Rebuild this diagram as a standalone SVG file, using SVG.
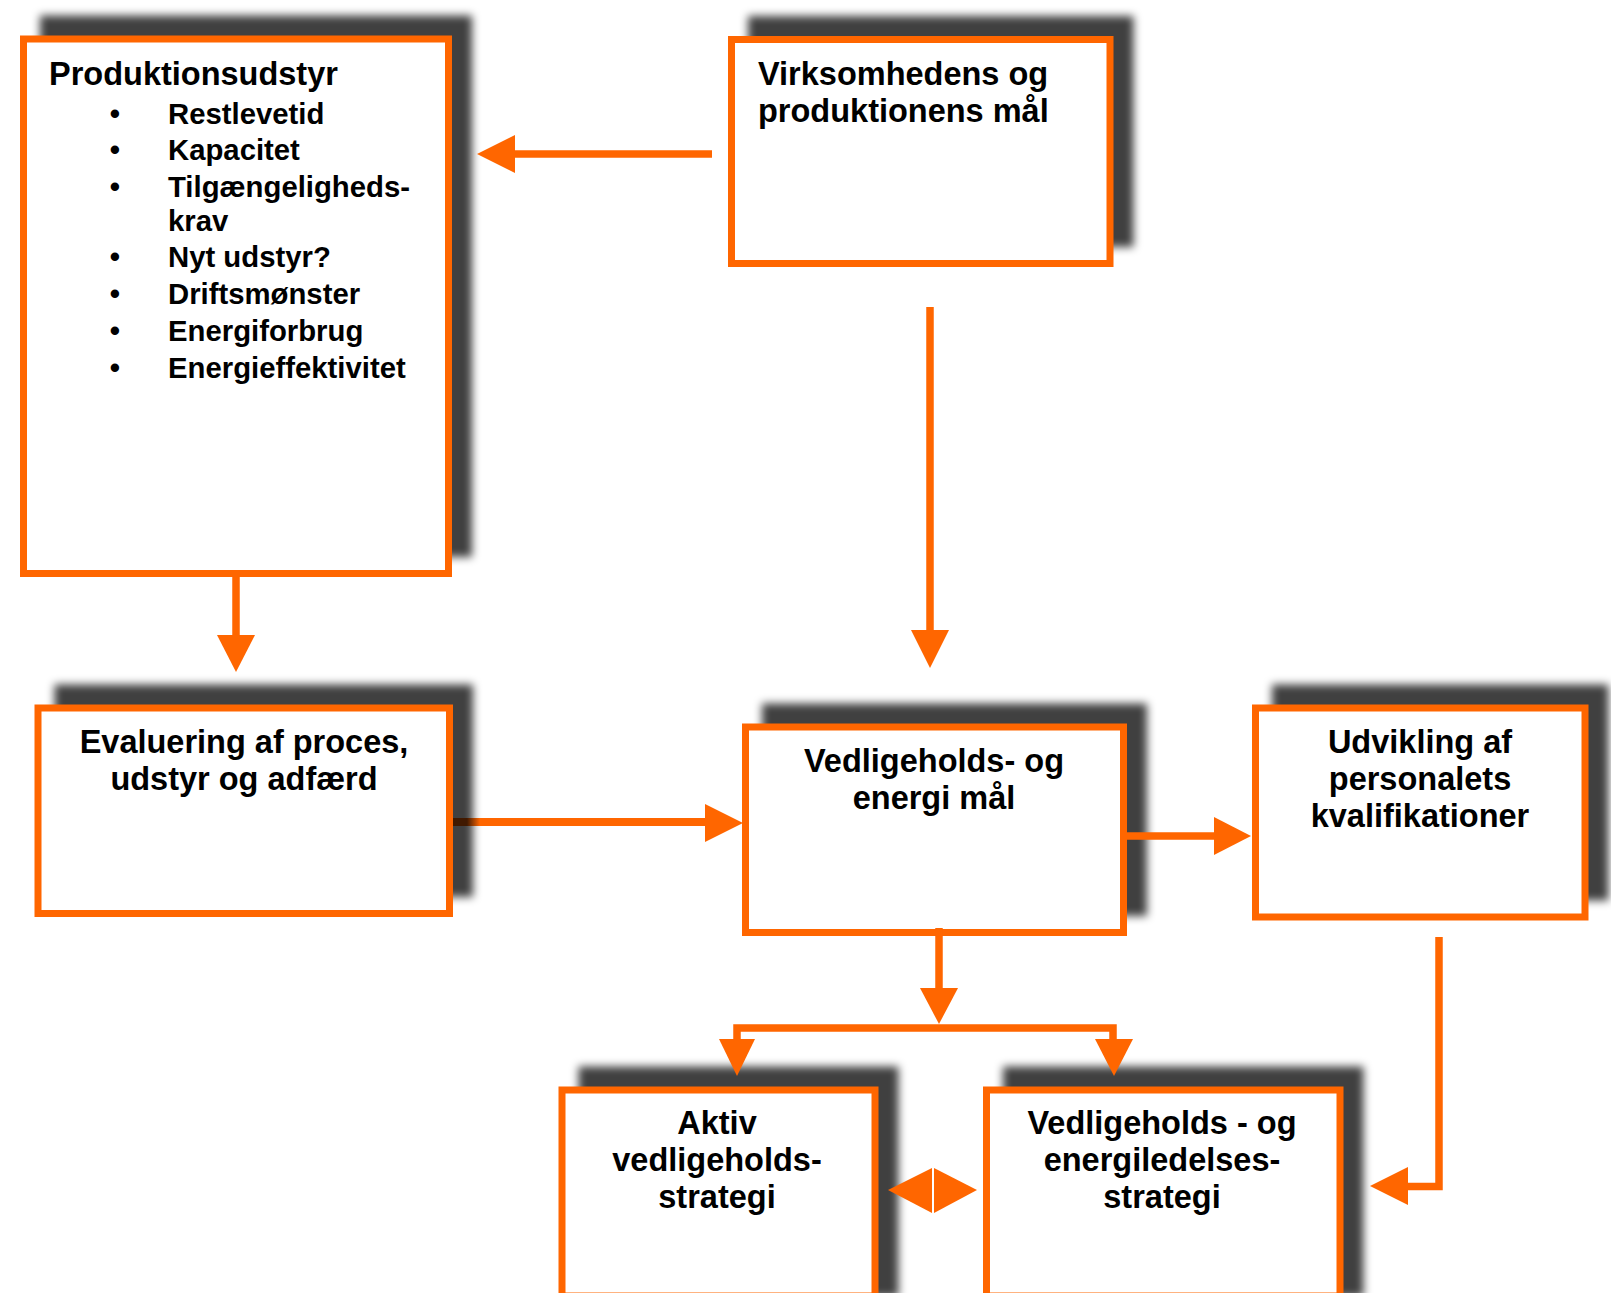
<svg xmlns="http://www.w3.org/2000/svg" width="1611" height="1293" viewBox="0 0 1611 1293">
<defs>
<filter id="sh" x="-20%" y="-20%" width="140%" height="140%"><feGaussianBlur stdDeviation="4.5"/></filter>
<linearGradient id="evg" gradientUnits="userSpaceOnUse" x1="467" y1="0" x2="480" y2="0">
<stop offset="0" stop-color="#401900"/><stop offset="1" stop-color="#FF6600"/>
</linearGradient>
</defs>
<style>
.shadow{fill:#000;fill-opacity:0.75;filter:url(#sh)}
.box{fill:#fff;stroke:#FF6600;stroke-width:7}
.t{font-family:"Liberation Sans",Arial,Helvetica,sans-serif;font-weight:bold;font-size:32.5px;fill:#000}
.s{font-size:29.3px}
.c{text-anchor:middle}
.ln{fill:none;stroke:#FF6600;stroke-width:7.5}
.ah{fill:#FF6600}
</style>
<rect width="1611" height="1293" fill="#fff"/>

<g id="node-produktionsudstyr">
<rect class="shadow" x="40" y="15.5" width="432" height="541.5"/>
<rect class="box" x="23.5" y="39" width="425" height="534.5"/>
<text class="t" x="49" y="85">Produktionsudstyr</text>
<g class="t s">
<text x="115" y="123.5" class="c">•</text><text x="168" y="123.5">Restlevetid</text>
<text x="115" y="159.5" class="c">•</text><text x="168" y="159.5">Kapacitet</text>
<text x="115" y="196.5" class="c">•</text><text x="168" y="196.5">Tilgængeligheds-</text>
<text x="168" y="230.5">krav</text>
<text x="115" y="267" class="c">•</text><text x="168" y="267">Nyt udstyr?</text>
<text x="115" y="303.5" class="c">•</text><text x="168" y="303.5">Driftsmønster</text>
<text x="115" y="341" class="c">•</text><text x="168" y="341">Energiforbrug</text>
<text x="115" y="377.5" class="c">•</text><text x="168" y="377.5">Energieffektivitet</text>
</g>
</g>

<g id="node-virksomhedens-maal">
<rect class="shadow" x="748" y="16" width="385.5" height="231"/>
<rect class="box" x="731.5" y="39.5" width="378.5" height="224"/>
<text class="t" x="758" y="85">Virksomhedens og</text>
<text class="t" x="758" y="122">produktionens mål</text>
</g>

<g id="node-evaluering">
<rect class="shadow" x="54.5" y="684.5" width="418.5" height="212.5"/>
<rect class="box" x="38" y="708" width="411.5" height="205.5"/>
<text class="t c" x="244" y="753">Evaluering af proces,</text>
<text class="t c" x="244" y="790">udstyr og adfærd</text>
</g>

<g id="node-vedligeholds-energi-maal">
<rect class="shadow" x="762" y="703.5" width="385" height="212.5"/>
<rect class="box" x="745.5" y="727" width="378" height="205.5"/>
<text class="t c" x="934" y="772">Vedligeholds- og</text>
<text class="t c" x="934" y="809">energi mål</text>
</g>

<g id="node-udvikling">
<rect class="shadow" x="1272" y="684.5" width="336.5" height="216"/>
<rect class="box" x="1255.5" y="708" width="329.5" height="209"/>
<text class="t c" x="1420" y="753">Udvikling af</text>
<text class="t c" x="1420" y="790">personalets</text>
<text class="t c" x="1420" y="827">kvalifikationer</text>
</g>

<g id="node-aktiv-strategi">
<rect class="shadow" x="578.5" y="1066.5" width="320" height="230"/>
<rect class="box" x="562" y="1090" width="313" height="206"/>
<text class="t c" x="717" y="1134">Aktiv</text>
<text class="t c" x="717" y="1171">vedligeholds-</text>
<text class="t c" x="717" y="1208">strategi</text>
</g>

<g id="node-ledelses-strategi">
<rect class="shadow" x="1003" y="1066.5" width="360.5" height="230"/>
<rect class="box" x="986.5" y="1090" width="353.5" height="206"/>
<text class="t c" x="1162" y="1134">Vedligeholds - og</text>
<text class="t c" x="1162" y="1171">energiledelses-</text>
<text class="t c" x="1162" y="1208">strategi</text>
</g>

<g id="connectors">
<line class="ln" x1="712" y1="154" x2="512" y2="154"/>
<polygon class="ah" points="477,154 515,135 515,173"/>

<line class="ln" x1="930" y1="307" x2="930" y2="634"/>
<polygon class="ah" points="930,668 911,630 949,630"/>

<line class="ln" x1="236" y1="577" x2="236" y2="638"/>
<polygon class="ah" points="236,672 217,635 255,635"/>

<line class="ln" x1="453" y1="822" x2="708" y2="822" style="stroke:url(#evg);stroke-width:8"/>
<polygon class="ah" points="743,823 705,804 705,842"/>

<line class="ln" x1="1127" y1="836" x2="1217" y2="836"/>
<polygon class="ah" points="1251,836 1214,817 1214,855"/>

<polyline class="ln" points="939,928 939,991"/>
<polygon class="ah" points="939,1024 920,988 958,988"/>
<polyline class="ln" points="737,1042 737,1028 1113,1028 1113,1042"/>
<polygon class="ah" points="737,1076 719,1039 755,1039"/>
<polygon class="ah" points="1114,1076 1095,1039 1133,1039"/>

<polygon class="ah" points="888,1190 932,1168 932,1213"/>
<polygon class="ah" points="977,1190 934,1168 934,1213"/>

<polyline class="ln" points="1439,937 1439,1186.5 1405,1186.5"/>
<polygon class="ah" points="1370,1186 1408,1167 1408,1205"/>
</g>
</svg>
